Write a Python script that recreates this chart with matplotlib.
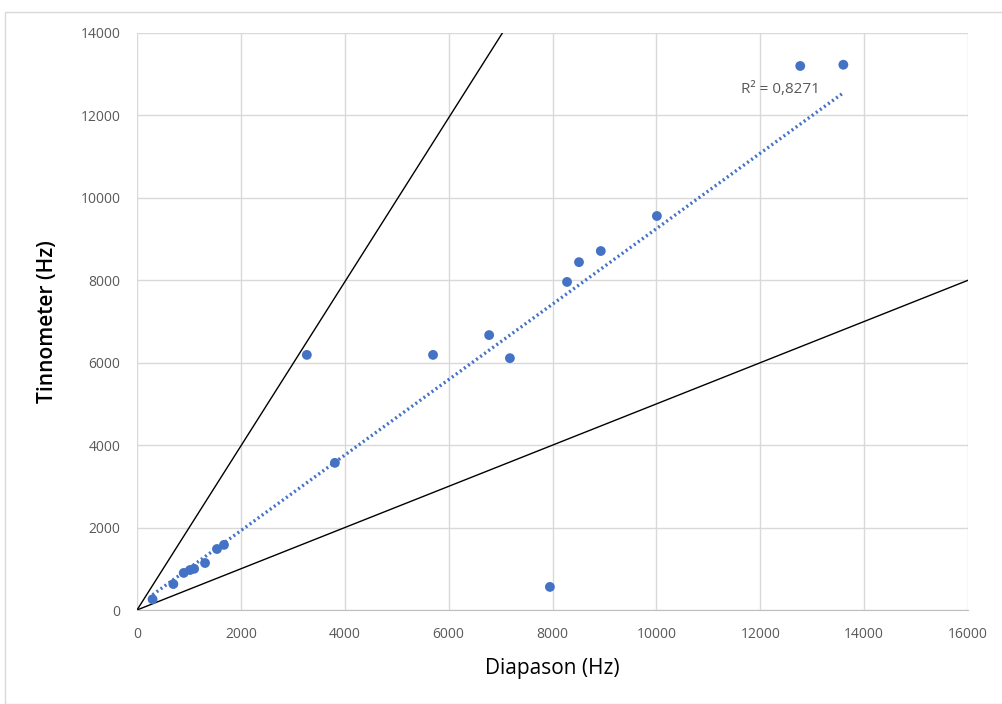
import matplotlib.pyplot as plt
import numpy as np
from matplotlib.patches import Rectangle

# Diapason vs Tinnometer frequency (Hz)
diapason = [300, 700, 900, 1020, 1100, 1310, 1540, 1675, 3270, 3810, 5700,
            6780, 7180, 7950, 8280, 8510, 8930, 10010, 12770, 13600]
tinnometer = [260, 630, 900, 970, 1000, 1140, 1480, 1580, 6190, 3570, 6190,
              6670, 6110, 560, 7960, 8440, 8710, 9560, 13200, 13230]
ref_x = [0, 16000]
upper_slope = 1.99
lower_slope = 0.5
r2_text = "R² = 0,8271"

plt.rcParams['font.family'] = ['Open Sans', 'DejaVu Sans']

fig = plt.figure(figsize=(10.02, 7.04), dpi=100)
fig.patches.append(Rectangle((5 / 1002, 0), 1.0, 1 - 12 / 704, transform=fig.transFigure,
                             fill=False, edgecolor='#D9D9D9', linewidth=1.0))
ax = fig.add_axes([137 / 1002, 94 / 704, 831 / 1002, 577 / 704])

x = np.array(diapason)
y = np.array(tinnometer)

# reference lines
ax.plot(ref_x, [v * upper_slope for v in ref_x], color='black', lw=1.0, zorder=2)
ax.plot(ref_x, [v * lower_slope for v in ref_x], color='black', lw=1.0, zorder=2)

ax.scatter(x, y, s=50, color='#4472C4', zorder=3, edgecolors='none')

# linear trendline
a, b = np.polyfit(x, y, 1)
tx = np.array([x.min(), x.max()])
ax.plot(tx, a * tx + b, color='#4472C4', lw=2.4, linestyle=(0, (0.6, 0.9)), zorder=3)
ax.text(11630, 12450, r2_text, fontsize=11, color='#595959', va='bottom')

ax.set_xlim(0, 16000)
ax.set_ylim(0, 14000)
ax.set_xticks(range(0, 16001, 2000))
ax.set_yticks(range(0, 14001, 2000))
ax.grid(True, color='#D9D9D9', lw=1.0)
ax.set_axisbelow(True)
for s in ['top', 'right', 'left']:
    ax.spines[s].set_visible(False)
ax.spines['bottom'].set_color('#BFBFBF')
ax.tick_params(length=0, labelsize=10, labelcolor='#595959', pad=12)

ax.set_xlabel('Diapason (Hz)', fontsize=15, color='black', labelpad=12)
ax.set_ylabel('Tinnometer (Hz)', fontsize=15, color='black', fontweight='semibold', labelpad=16)

fig.savefig('out.png', dpi=100)
